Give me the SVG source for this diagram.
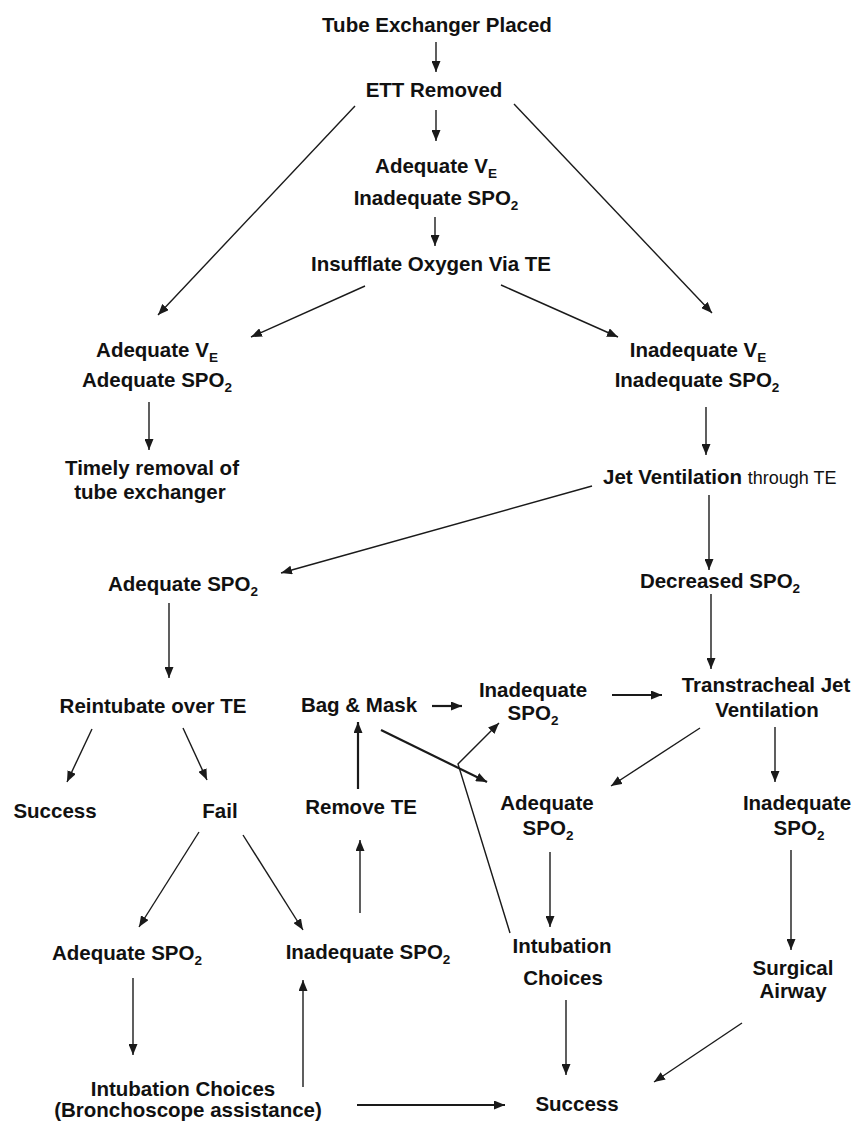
<svg xmlns="http://www.w3.org/2000/svg" width="853" height="1123" viewBox="0 0 853 1123">
<style>
text{font-family:"Liberation Sans",Arial,sans-serif;font-weight:bold;font-size:20.5px;fill:#111;text-anchor:middle}
.sub{font-size:13.5px}
.small{font-weight:normal;font-size:18px}
.st{text-anchor:start}
.c line,.c polyline{stroke:#1a1a1a;stroke-width:1.4;fill:none;marker-end:url(#ah)}
.c .t{stroke-width:2.2}
</style>
<defs>
<marker id="ah" markerUnits="userSpaceOnUse" markerWidth="12" markerHeight="9" refX="11" refY="4.5" orient="auto">
<path d="M0,0 L11,4.5 L0,9 z" fill="#1a1a1a"/>
</marker>
</defs>
<rect width="853" height="1123" fill="#fff"/>
<g class="c" id="connectors">
<line x1="436" y1="42" x2="436" y2="72"/>
<line x1="436" y1="110" x2="436" y2="141"/>
<line x1="435" y1="217" x2="435" y2="246"/>
<line x1="355" y1="106" x2="158" y2="315"/>
<line x1="514" y1="104" x2="712" y2="313"/>
<line x1="365" y1="286" x2="251" y2="337"/>
<line x1="501" y1="285" x2="618" y2="337"/>
<line x1="149" y1="402" x2="149" y2="450"/>
<line x1="706" y1="407" x2="706" y2="455"/>
<line x1="592" y1="486" x2="281" y2="573"/>
<line x1="709" y1="495" x2="709" y2="570"/>
<line x1="169" y1="603" x2="169" y2="678"/>
<line x1="711" y1="594" x2="711" y2="669"/>
<line x1="92" y1="729" x2="67" y2="782"/>
<line x1="183" y1="728" x2="207" y2="780"/>
<line class="t" x1="432" y1="706" x2="462" y2="706"/>
<line class="t" x1="612" y1="695" x2="662" y2="695"/>
<line class="t" x1="358" y1="789" x2="358" y2="722"/>
<line class="t" x1="381" y1="730" x2="487" y2="782"/>
<polyline points="510,933 458,764 499,723"/>
<line x1="700" y1="728" x2="611" y2="786"/>
<line x1="775" y1="727" x2="775" y2="782"/>
<line x1="199" y1="832" x2="139" y2="927"/>
<line x1="243" y1="835" x2="303" y2="930"/>
<line x1="360" y1="913" x2="360" y2="840"/>
<line x1="550" y1="852" x2="550" y2="927"/>
<line x1="791" y1="850" x2="791" y2="950"/>
<line x1="133" y1="978" x2="133" y2="1055"/>
<line x1="303" y1="1087" x2="303" y2="980"/>
<line class="t" x1="357" y1="1105" x2="505" y2="1105"/>
<line x1="566" y1="1000" x2="566" y2="1075"/>
<line x1="742" y1="1023" x2="654" y2="1082"/>
</g>
<g id="n1"><text x="437" y="32">Tube Exchanger Placed</text></g>
<g id="n2"><text x="434" y="97">ETT Removed</text></g>
<g id="n3"><text x="436" y="173">Adequate V<tspan class="sub" dy="5">E</tspan></text><text x="436" y="205">Inadequate SPO<tspan class="sub" dy="5">2</tspan></text></g>
<g id="n4"><text x="431" y="271">Insufflate Oxygen Via TE</text></g>
<g id="n5"><text x="157" y="357">Adequate V<tspan class="sub" dy="5">E</tspan></text><text x="157" y="387">Adequate SPO<tspan class="sub" dy="5">2</tspan></text></g>
<g id="n6"><text x="698" y="357">Inadequate V<tspan class="sub" dy="5">E</tspan></text><text x="697" y="387">Inadequate SPO<tspan class="sub" dy="5">2</tspan></text></g>
<g id="n7"><text x="152" y="475">Timely removal of</text><text x="150" y="499">tube exchanger</text></g>
<g id="n8"><text class="st" x="603" y="484">Jet Ventilation <tspan class="small">through TE</tspan></text></g>
<g id="n9"><text x="183" y="591">Adequate SPO<tspan class="sub" dy="5">2</tspan></text></g>
<g id="n10"><text x="720" y="588">Decreased SPO<tspan class="sub" dy="5">2</tspan></text></g>
<g id="n11"><text x="153" y="713">Reintubate over TE</text></g>
<g id="n12"><text x="359" y="712">Bag &amp; Mask</text></g>
<g id="n13"><text x="533" y="697">Inadequate</text><text x="533" y="720">SPO<tspan class="sub" dy="5">2</tspan></text></g>
<g id="n14"><text x="766" y="692">Transtracheal Jet</text><text x="767" y="717">Ventilation</text></g>
<g id="n15"><text x="55" y="818">Success</text></g>
<g id="n16"><text x="220" y="818">Fail</text></g>
<g id="n17"><text x="361" y="814">Remove TE</text></g>
<g id="n18"><text x="547" y="810">Adequate</text><text x="548" y="835">SPO<tspan class="sub" dy="5">2</tspan></text></g>
<g id="n19"><text x="797" y="810">Inadequate</text><text x="799" y="835">SPO<tspan class="sub" dy="5">2</tspan></text></g>
<g id="n20"><text x="127" y="960">Adequate SPO<tspan class="sub" dy="5">2</tspan></text></g>
<g id="n21"><text x="368" y="959">Inadequate SPO<tspan class="sub" dy="5">2</tspan></text></g>
<g id="n22"><text x="562" y="953">Intubation</text><text x="563" y="985">Choices</text></g>
<g id="n23"><text x="793" y="975">Surgical</text><text x="793" y="998">Airway</text></g>
<g id="n24"><text x="183" y="1096">Intubation Choices</text><text x="188" y="1117">(Bronchoscope assistance)</text></g>
<g id="n25"><text x="577" y="1111">Success</text></g>
</svg>
